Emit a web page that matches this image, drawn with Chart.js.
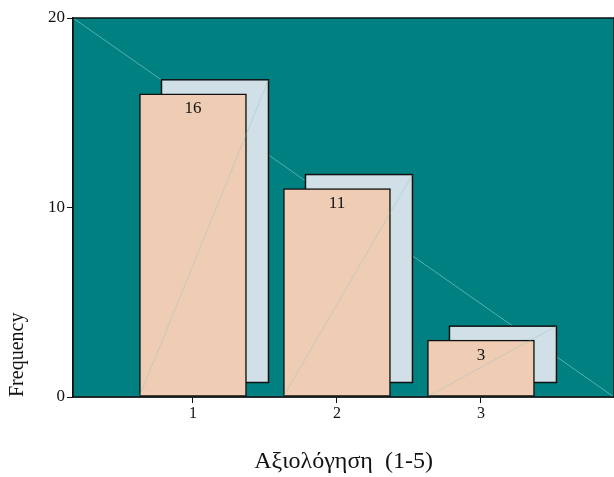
<!DOCTYPE html>
<html>
<head>
<meta charset="utf-8">
<script src="https://cdn.jsdelivr.net/npm/chart.js@4"></script>
<style>
  html, body { margin: 0; padding: 0; background: #fff; }
  #wrap { width: 614px; height: 477px; }
</style>
</head>
<body>
<div id="wrap"><canvas id="chart"></canvas></div>
<script>
// Data
const ratings = [1, 2, 3];
const frequencies = [16, 11, 3];
const yTicks = [0, 10, 20];
const xTitle = "Αξιολόγηση  (1-5)";
const yTitle = "Frequency";

const serif = "'Liberation Serif', 'DejaVu Serif', serif";
const plotBg = "#008080";
const barFill = "#eecdb4";
const shadowFill = "#d0e0e6";
const depth = { dx: 22, dy: -14 }; // 3D offset of the back face

// plot background, corner diagonal and the back faces of the bars
const backdrop = {
  id: "backdrop",
  beforeDatasetsDraw(chart) {
    const { ctx, chartArea: a } = chart;
    ctx.save();
    ctx.fillStyle = plotBg;
    ctx.fillRect(a.left, a.top, a.right - a.left, a.bottom - a.top);
    ctx.strokeStyle = "rgba(150, 215, 215, 0.7)";
    ctx.lineWidth = 0.8;
    ctx.beginPath();
    ctx.moveTo(a.left, a.top);
    ctx.lineTo(a.right, a.bottom);
    ctx.stroke();

    const meta = chart.getDatasetMeta(0);
    meta.data.forEach((bar) => {
      const l = bar.x - bar.width / 2 + depth.dx;
      const t = bar.y + depth.dy;
      const w = bar.width;
      const h = bar.base - bar.y;
      ctx.fillStyle = shadowFill;
      ctx.fillRect(l, t, w, h);
      ctx.strokeStyle = "#111";
      ctx.lineWidth = 1.5;
      ctx.strokeRect(l, t, w, h);
    });
    ctx.restore();
  },
  afterDatasetsDraw(chart) {
    const { ctx, chartArea: a } = chart;
    const meta = chart.getDatasetMeta(0);
    ctx.save();
    meta.data.forEach((bar, i) => {
      // faint edge line front bottom-left -> back top-right
      ctx.strokeStyle = "rgba(120, 190, 195, 0.4)";
      ctx.lineWidth = 0.8;
      ctx.beginPath();
      ctx.moveTo(bar.x - bar.width / 2, bar.base);
      ctx.lineTo(bar.x + bar.width / 2 + depth.dx, bar.y + depth.dy);
      ctx.stroke();

      ctx.fillStyle = "#111";
      ctx.font = "17px " + serif;
      ctx.textAlign = "center";
      ctx.textBaseline = "middle";
      ctx.fillText(String(frequencies[i]), bar.x, bar.y + 15);
    });
    ctx.strokeStyle = "#111";
    ctx.lineWidth = 1.5;
    ctx.strokeRect(a.left, a.top, a.right - a.left, a.bottom - a.top);
    ctx.restore();
  },
};

new Chart(document.getElementById("chart"), {
  type: "bar",
  data: {
    datasets: [
      {
        label: yTitle,
        data: ratings.map((r, i) => ({ x: r, y: frequencies[i] })),
        backgroundColor: barFill,
        borderColor: "#111",
        borderWidth: 1.5,
        borderSkipped: false,
        barThickness: 107,
      },
    ],
  },
  options: {
    responsive: true,
    maintainAspectRatio: false,
    animation: false,
    devicePixelRatio: 1,
    layout: { padding: { top: 18, right: 0, left: 0, bottom: 0 } },
    plugins: {
      legend: { display: false },
      tooltip: { enabled: false },
    },
    scales: {
      x: {
        type: "linear",
        offset: false,
        min: 0.1667,
        max: 3.924,
        afterBuildTicks: (scale) => {
          scale.ticks = ratings.map((v) => ({ value: v }));
        },
        afterFit: (scale) => {
          scale.height = 80;
        },
        grid: {
          offset: false,
          drawOnChartArea: false,
          drawTicks: true,
          tickLength: 6,
          color: "#111",
        },
        border: { display: true, color: "#111", width: 1.5 },
        ticks: {
          color: "#111",
          font: { family: serif, size: 16 },
          padding: 1,
          callback: (v) => String(v),
        },
        title: {
          display: true,
          text: xTitle,
          color: "#111",
          font: { family: serif, size: 24 },
          padding: { top: 0, bottom: 1 },
        },
      },
      y: {
        min: 0,
        max: 20,
        afterBuildTicks: (scale) => {
          scale.ticks = yTicks.map((v) => ({ value: v }));
        },
        afterFit: (scale) => {
          scale.width = 73;
        },
        grid: {
          drawOnChartArea: false,
          drawTicks: true,
          tickLength: 6,
          color: "#111",
        },
        border: { display: true, color: "#111", width: 1.5 },
        ticks: {
          color: "#111",
          font: { family: serif, size: 17 },
          padding: 2,
        },
        title: {
          display: true,
          text: yTitle,
          align: "start",
          color: "#111",
          font: { family: serif, size: 20 },
          padding: { top: 6, bottom: 0 },
        },
      },
    },
  },
  plugins: [backdrop],
});
</script>
</body>
</html>
